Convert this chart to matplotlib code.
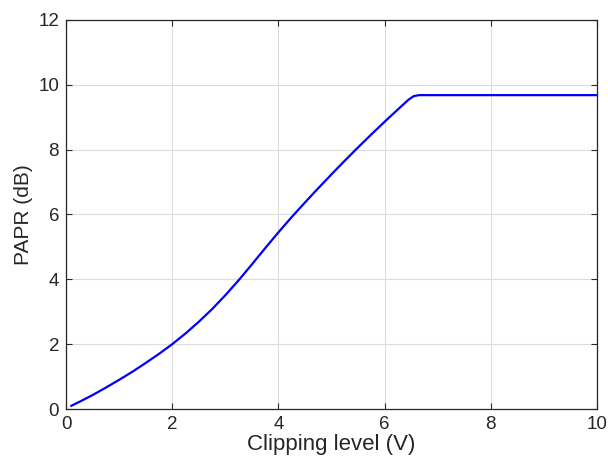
import matplotlib
matplotlib.use('Agg')
import matplotlib.pyplot as plt

plt.rcParams['font.family'] = ['Liberation Sans', 'DejaVu Sans']

# PAPR versus clipping level
clip_level = [0.1, 0.25, 0.5, 0.75, 1.0, 1.25, 1.5, 1.75, 2.0, 2.25, 2.5, 2.75,
              3.0, 3.25, 3.5, 3.75, 4.0, 4.25, 4.5, 4.75, 5.0, 5.25, 5.5, 5.75,
              6.0, 6.25, 6.45, 6.55, 6.65, 7.0, 8.0, 9.0, 10.0]
papr_db = [0.1, 0.22, 0.43, 0.66, 0.9, 1.15, 1.42, 1.7, 2.0, 2.33, 2.69, 3.08,
           3.51, 3.97, 4.46, 4.96, 5.45, 5.92, 6.37, 6.81, 7.24, 7.66, 8.07, 8.47,
           8.86, 9.24, 9.54, 9.65, 9.68, 9.68, 9.68, 9.68, 9.68]

xticks = [0, 2, 4, 6, 8, 10]
yticks = [0, 2, 4, 6, 8, 10, 12]

fig = plt.figure(figsize=(6.08, 4.63), dpi=100)
ax = fig.add_axes([0.1086, 0.1166, 0.8734, 0.8404])

ax.plot(clip_level, papr_db, color='#0000ff', linewidth=1.6)

ax.set_xlim(0, 10)
ax.set_ylim(0, 12)
ax.set_xticks(xticks)
ax.set_yticks(yticks)
ax.grid(True, color='#dcdcdc', linewidth=0.8)
ax.set_axisbelow(True)

ax.tick_params(direction='in', length=4, width=0.8, colors='#262626',
               labelsize=13.5, top=True, right=True, pad=5)
for s in ax.spines.values():
    s.set_color('#262626')
    s.set_linewidth(0.9)

ax.set_xlabel('Clipping level (V)', fontsize=16, color='#262626', labelpad=1)
ax.set_ylabel('PAPR (dB)', fontsize=15, color='#262626', labelpad=4)

fig.savefig('out.png', dpi=100, facecolor='white')
